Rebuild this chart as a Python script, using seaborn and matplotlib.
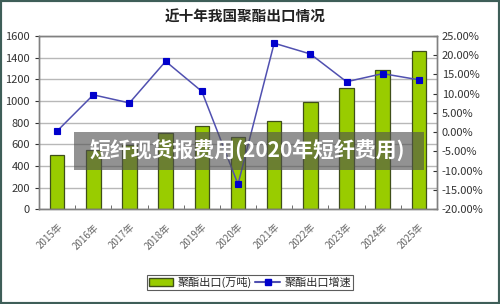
import numpy as np
import pandas as pd
import matplotlib
matplotlib.use('Agg')
import matplotlib.pyplot as plt
from matplotlib.patches import Patch, Rectangle
from matplotlib.lines import Line2D
import seaborn as sns

years = ['2015年', '2016年', '2017年', '2018年', '2019年', '2020年',
         '2021年', '2022年', '2023年', '2024年', '2025年']
export = [501, 550, 592, 702, 772, 670, 815, 988, 1117, 1286, 1462]
growth = [0.3, 9.7, 7.6, 18.4, 10.6, -13.5, 23.1, 20.3, 13.1, 15.2, 13.6]

df = pd.DataFrame({'year': years, 'export': export, 'growth': growth})

sns.set_style('white')
plt.rcParams['font.family'] = ['Noto Sans CJK SC', 'DejaVu Sans']

fig = plt.figure(figsize=(5, 3.04), dpi=100)
ax = fig.add_axes([0.078, 0.3115, 0.796, 0.5705])
ax2 = ax.twinx()

sns.barplot(data=df, x='year', y='export', ax=ax, color='#99CC00',
            width=0.4, edgecolor='#3F4F1A', linewidth=0.9, saturation=1)
ax.set_ylim(0, 1600)
ax.set_yticks(np.arange(0, 1601, 200))
ax.yaxis.grid(True, color='#B8B8B8', linewidth=1)
ax.set_axisbelow(True)
ax.set_xlabel('')
ax.set_ylabel('')
ax.tick_params(axis='y', labelsize=8, colors='#333333', length=3, direction='out', left=True)
ax.tick_params(axis='x', labelsize=7, colors='#666666', length=0, pad=9)
plt.setp(ax.get_xticklabels(), rotation=45, ha='right', rotation_mode='anchor')
ax.set_xticks(np.arange(len(years)) + 0.5, minor=True)
ax.tick_params(axis='x', which='minor', direction='in', length=3, bottom=True, color='#555555')

sns.pointplot(data=df, x='year', y='growth', ax=ax2, color='#0000CC',
              markers='s', linestyles='-', markersize=4.5, linewidth=1.1)
ln = ax2.lines[0]
ln.set_color('#5050B0')
ln.set_markerfacecolor('#0000CC')
ln.set_markeredgecolor('#0000CC')
ax2.set_ylim(-20, 25)
ax2.set_yticks(np.arange(-20, 26, 5))
ax2.set_yticklabels([f'{v:.2f}%' for v in np.arange(-20, 26, 5)])
ax2.set_xlabel('')
ax2.set_ylabel('')
ax2.tick_params(axis='y', labelsize=8, colors='#333333', length=3, direction='in', right=True)
ax.set_xlim(-0.5, len(years) - 0.5)

for a in (ax, ax2):
    for s in a.spines.values():
        s.set_color('#808080')
        s.set_linewidth(1)

fig.text(0.49, 0.945, '近十年我国聚酯出口情况', ha='center', va='center',
         fontsize=10.5, fontweight='bold', color='#222222')

handles = [Patch(facecolor='#99CC00', edgecolor='#3F4F1A', label='聚酯出口(万吨)'),
           Line2D([], [], color='#5050B0', marker='s', markersize=4,
                  markerfacecolor='#0000CC', markeredgecolor='#0000CC', label='聚酯出口增速')]
leg = fig.legend(handles=handles, loc='center', bbox_to_anchor=(0.5, 0.07), ncol=2,
                 fontsize=8, frameon=True, fancybox=False, handlelength=2.2,
                 columnspacing=0.3, handletextpad=0.4, borderpad=0.2)
leg.get_frame().set_edgecolor('#333333')
leg.get_frame().set_linewidth(0.8)

# watermark band
fig.patches.append(Rectangle((0.148, 0.44), 0.70, 0.125, transform=fig.transFigure,
                             facecolor='#505050', alpha=0.62, edgecolor='none', zorder=5))
fig.text(0.495, 0.503, '短纤现货报费用(2020年短纤费用)', ha='center', va='center',
         fontsize=15, fontweight='bold', color='white', zorder=6)

# outer border
fig.patches.append(Rectangle((0, 0), 1, 1, transform=fig.transFigure, fill=False,
                             edgecolor='#3E5E58', linewidth=3, zorder=10))

fig.savefig('out.png', dpi=100)
